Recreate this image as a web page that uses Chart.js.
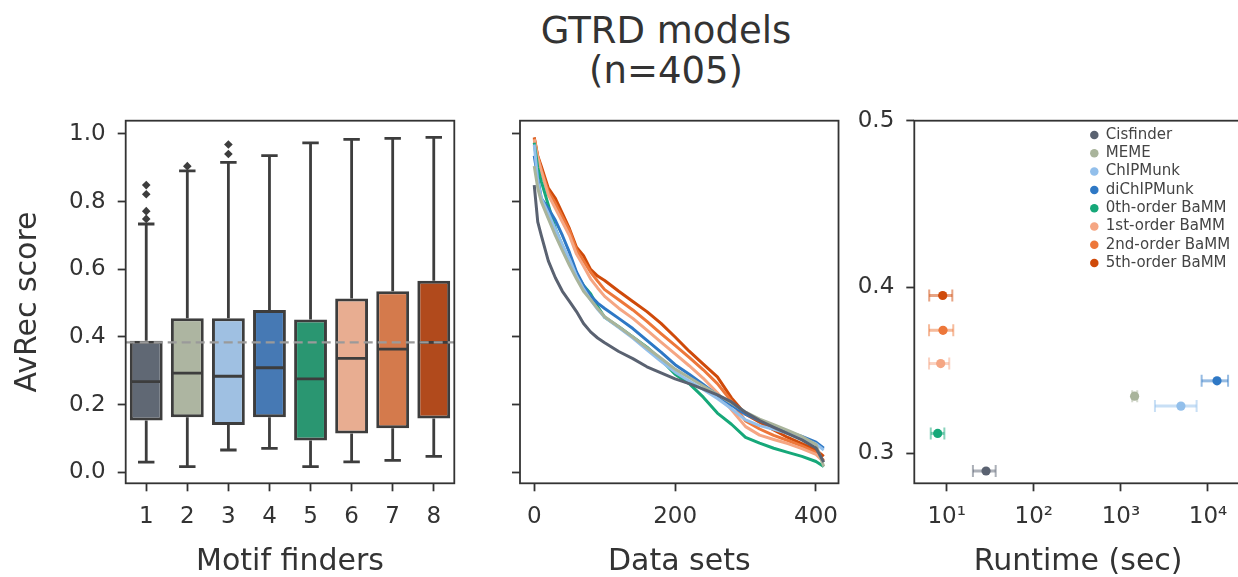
<!DOCTYPE html>
<html>
<head>
<meta charset="utf-8">
<title>GTRD models</title>
<script src="https://cdn.jsdelivr.net/npm/chart.js@4.4.1/dist/chart.umd.min.js"></script>
<style>
  html, body { margin: 0; padding: 0; background: #fff; overflow: hidden; }
  #fig { position: relative; width: 1238px; height: 577px; overflow: hidden; background: #fff; }
  #fig canvas { position: absolute; top: 0; }
  #title { position: absolute; left: 416px; width: 500px; top: 11px; text-align: center;
           font-family: 'DejaVu Sans', sans-serif; font-size: 37px; line-height: 40px; color: #333; }
</style>
</head>
<body>
<div id="fig">
  <div id="title">GTRD models<br>(n=405)</div>
  <canvas id="boxes" width="470" height="577" style="left:0"></canvas>
  <canvas id="curves" width="380" height="577" style="left:470px"></canvas>
  <canvas id="runtime" width="400" height="577" style="left:850px"></canvas>
</div>
<script>
// ---- data ----
const finders = ['1', '2', '3', '4', '5', '6', '7', '8'];
const methods = ['Cisfinder', 'MEME', 'ChIPMunk', 'diChIPMunk',
  '0th-order BaMM', '1st-order BaMM', '2nd-order BaMM', '5th-order BaMM'];

// box plot stats (AvRec score)
const whiskLow  = [0.030, 0.017, 0.066, 0.071, 0.017, 0.031, 0.035, 0.047];
const q1        = [0.153, 0.163, 0.140, 0.163, 0.094, 0.115, 0.130, 0.159];
const median    = [0.268, 0.293, 0.284, 0.309, 0.276, 0.337, 0.364, 0.384];
const q3        = [0.389, 0.455, 0.455, 0.480, 0.452, 0.514, 0.535, 0.566];
const whiskHigh = [0.734, 0.891, 0.916, 0.936, 0.974, 0.984, 0.987, 0.990];
const outliers  = [[0.749, 0.772, 0.822, 0.849], [0.905], [0.941, 0.969], [], [], [], [], []];
const refLine = 0.384;

// sorted AvRec per data set
const setIndex = [0, 5, 10, 20, 30, 40, 50, 60, 70, 80, 90, 100, 120, 140, 160, 180, 200,
  220, 240, 260, 280, 300, 320, 340, 360, 380, 400, 411];
const cisfinder  = [.849,.74,.70,.625,.575,.535,.505,.475,.44,.415,.397,.383,.357,.336,.312,.294,.276,.262,.246,.229,.208,.177,.153,.133,.114,.096,.072,.030];
const meme       = [.905,.84,.80,.75,.70,.655,.612,.572,.535,.51,.484,.46,.43,.40,.368,.337,.305,.28,.255,.23,.205,.178,.157,.141,.124,.106,.082,.017];
const chipmunk   = [.969,.86,.81,.765,.718,.672,.63,.58,.542,.51,.482,.458,.428,.397,.362,.328,.296,.27,.245,.218,.188,.155,.138,.127,.115,.101,.084,.066];
const dichipmunk = [.936,.87,.81,.78,.745,.70,.65,.592,.552,.522,.50,.484,.455,.425,.39,.355,.318,.29,.26,.228,.198,.172,.153,.135,.119,.106,.089,.071];
const bamm0      = [.974,.90,.86,.79,.72,.67,.625,.585,.552,.528,.49,.458,.43,.40,.37,.333,.29,.262,.222,.175,.142,.103,.086,.071,.059,.047,.032,.017];
const bamm1      = [.984,.93,.89,.82,.78,.74,.70,.645,.61,.572,.545,.52,.485,.455,.42,.385,.35,.315,.278,.235,.185,.135,.11,.097,.085,.07,.053,.031];
const bamm2      = [.987,.932,.895,.83,.795,.755,.715,.658,.625,.592,.565,.54,.51,.48,.446,.41,.375,.34,.303,.262,.21,.152,.128,.109,.094,.078,.059,.035];
const bamm5      = [.990,.935,.905,.84,.81,.765,.72,.665,.64,.60,.58,.567,.535,.505,.475,.44,.40,.358,.32,.282,.22,.172,.148,.125,.103,.085,.066,.047];
const curves = [cisfinder, meme, chipmunk, dichipmunk, bamm0, bamm1, bamm2, bamm5];

// runtime (sec) vs mean AvRec
const runtimeMid  = [28.3, 1436, 4890, 12690, 7.88, 8.53, 9.07, 9.0];
const runtimeLow  = [20, 1348, 2460, 8450, 6.56, 6.27, 6.27, 6.3];
const runtimeHigh = [36.5, 1540, 7400, 17000, 9.4, 10.7, 11.9, 11.6];
const avrecMean   = [0.2894, 0.3344, 0.3284, 0.3436, 0.312, 0.354, 0.374, 0.3949];

// tick labels
const avrecTicks = [0.0, 0.2, 0.4, 0.6, 0.8, 1.0];
const setTicks = [0, 200, 400];
const runtimeTicks = [10, 100, 1000, 10000];
const runtimeTickLabels = ['10¹', '10²', '10³', '10⁴'];
const meanTicks = [0.3, 0.4, 0.5];

// ---- styles ----
const lineColors = ['#5a6271', '#a9b49b', '#92bfeb', '#2e78c5', '#16a879', '#f5a683', '#ed773a', '#cf4a0a'];
const boxFill    = ['#606874', '#adb5a1', '#9fc0e2', '#4679b4', '#2a9671', '#e8ad91', '#d47a4c', '#b14a1c'];
const INK = '#333';
const EDGE = '#3d3d3d';
const FAMILY = "'DejaVu Sans', sans-serif";

Chart.defaults.font.family = FAMILY;
Chart.defaults.color = INK;

function fade(hex, a) {
  const n = parseInt(hex.slice(1), 16);
  return `rgba(${n >> 16},${(n >> 8) & 255},${n & 255},${a})`;
}

const tickFont = { family: FAMILY, size: 23 };
function axis(extra) {
  return Object.assign({
    grid: { display: true, drawOnChartArea: false, tickLength: 8, tickWidth: 1.8, tickColor: INK },
    border: { display: false },
    ticks: { font: tickFont, color: INK, padding: 12 }
  }, extra);
}
function axisTitle(text) {
  return { display: true, text, color: INK, font: { family: FAMILY, size: 30, lineHeight: 1 }, padding: { top: 13, bottom: 0 } };
}
const fixedTicks = list => scale => { scale.ticks = list.map(v => ({ value: v })); };

// all four spines
const frame = {
  id: 'frame',
  afterDraw(chart) {
    const a = chart.chartArea, ctx = chart.ctx;
    ctx.save();
    ctx.strokeStyle = INK;
    ctx.lineWidth = 1.8;
    ctx.strokeRect(a.left, a.top, a.right - a.left, a.bottom - a.top);
    ctx.restore();
  }
};

const base = {
  responsive: false, devicePixelRatio: 1, animation: false,
  plugins: { legend: { display: false }, tooltip: { enabled: false } },
  events: []
};

// ---- panel 1: box plots ----
const boxParts = {
  id: 'boxParts',
  afterDatasetsDraw(chart) {
    const { ctx, scales: { x, y } } = chart;
    const bars = chart.getDatasetMeta(0).data;
    ctx.save();
    ctx.strokeStyle = EDGE;
    ctx.lineWidth = 2.8;
    bars.forEach((bar, i) => {
      const cx = x.getPixelForValue(i);
      const hw = bar.width / 2, cw = bar.width / 4;
      const yq1 = y.getPixelForValue(q1[i]), yq3 = y.getPixelForValue(q3[i]);
      const ylo = y.getPixelForValue(whiskLow[i]), yhi = y.getPixelForValue(whiskHigh[i]);
      const ym = y.getPixelForValue(median[i]);
      ctx.beginPath();
      ctx.moveTo(cx, yq3); ctx.lineTo(cx, yhi);
      ctx.moveTo(cx - cw, yhi); ctx.lineTo(cx + cw, yhi);
      ctx.moveTo(cx, yq1); ctx.lineTo(cx, ylo);
      ctx.moveTo(cx - cw, ylo); ctx.lineTo(cx + cw, ylo);
      ctx.moveTo(cx - hw + 1, ym); ctx.lineTo(cx + hw - 1, ym);
      ctx.stroke();
    });
    // overall reference level
    const yr = y.getPixelForValue(refLine);
    ctx.strokeStyle = '#9a9a9a';
    ctx.lineWidth = 2.2;
    ctx.setLineDash([9, 5]);
    ctx.beginPath();
    ctx.moveTo(chart.chartArea.left, yr); ctx.lineTo(chart.chartArea.right, yr);
    ctx.stroke();
    ctx.restore();
  }
};

const outlierPoints = outliers.flatMap((list, i) => list.map(v => ({ x: finders[i], y: v })));

new Chart(document.getElementById('boxes'), {
  type: 'bar',
  data: {
    labels: finders,
    datasets: [
      { type: 'bar', data: finders.map((f, i) => [q1[i], q3[i]]), backgroundColor: boxFill,
        borderColor: EDGE, borderWidth: 3, borderSkipped: false, barPercentage: 0.8, categoryPercentage: 1.0 },
      { type: 'line', data: outlierPoints, showLine: false, pointStyle: 'rectRot', pointRadius: 4.3,
        pointBackgroundColor: EDGE, pointBorderWidth: 0 }
    ]
  },
  options: Object.assign({}, base, {
    layout: { padding: { left: 0, right: 15.7, top: 120.7, bottom: 0 } },
    scales: {
      x: axis({ type: 'category', offset: true,
        grid: { display: true, offset: false, drawOnChartArea: false, tickLength: 8, tickWidth: 1.8, tickColor: INK },
        title: axisTitle('Motif finders'), afterFit: s => { s.height = 93.7; } }),
      y: axis({ min: -0.0325, max: 1.0393, afterBuildTicks: fixedTicks(avrecTicks),
        ticks: { font: tickFont, color: INK, padding: 12, callback: v => v.toFixed(1) },
        title: axisTitle('AvRec score'), afterFit: s => { s.width = 125.7; } })
    }
  }),
  plugins: [frame, boxParts]
});

// ---- panel 2: sorted curves ----
new Chart(document.getElementById('curves'), {
  type: 'line',
  data: {
    datasets: methods.map((m, i) => ({
      label: m,
      data: setIndex.map((x, j) => ({ x, y: curves[i][j] })),
      borderColor: lineColors[i], borderWidth: 3, borderJoinStyle: 'round',
      pointRadius: 0, tension: 0, fill: false
    }))
  },
  options: Object.assign({}, base, {
    layout: { padding: { left: 0, right: 1, top: 120.7, bottom: 0 } },
    scales: {
      x: axis({ type: 'linear', min: -20.2, max: 432, afterBuildTicks: fixedTicks(setTicks),
        title: axisTitle('Data sets'), afterFit: s => { s.height = 93.7; } }),
      y: axis({ min: -0.0325, max: 1.0393, afterBuildTicks: fixedTicks(avrecTicks),
        ticks: { font: tickFont, padding: 12, callback: () => '' },
        afterFit: s => { s.width = 50; } })
    }
  }),
  plugins: [frame]
});

// ---- panel 3: runtime ----
const errBars = {
  id: 'errBars',
  beforeDatasetsDraw(chart) {
    const { ctx, scales: { x, y } } = chart;
    ctx.save();
    methods.forEach((m, i) => {
      const yy = y.getPixelForValue(avrecMean[i]);
      const x0 = x.getPixelForValue(runtimeLow[i]), x1 = x.getPixelForValue(runtimeHigh[i]);
      ctx.strokeStyle = fade(lineColors[i], 0.5);
      ctx.lineWidth = 3;
      ctx.beginPath(); ctx.moveTo(x0, yy); ctx.lineTo(x1, yy); ctx.stroke();
      ctx.lineWidth = 2;
      ctx.beginPath();
      ctx.moveTo(x0, yy - 6); ctx.lineTo(x0, yy + 6);
      ctx.moveTo(x1, yy - 6); ctx.lineTo(x1, yy + 6);
      ctx.stroke();
    });
    ctx.restore();
  }
};
// push the in-plot legend to the upper right
const legendPlace = {
  id: 'legendPlace',
  afterLayout(chart) {
    const lg = chart.legend;
    if (!lg) return;
    lg.left = chart.chartArea.left + 172.7;
    lg.top = chart.chartArea.top + 3.5;
  }
};

new Chart(document.getElementById('runtime'), {
  type: 'scatter',
  data: {
    datasets: methods.map((m, i) => ({
      label: m,
      data: [{ x: runtimeMid[i], y: avrecMean[i] }],
      backgroundColor: lineColors[i], borderWidth: 0, pointRadius: 4.6
    }))
  },
  options: Object.assign({}, base, {
    layout: { padding: { left: 0, right: 8, top: 120.7, bottom: 0 } },
    plugins: {
      tooltip: { enabled: false },
      legend: {
        display: true, position: 'chartArea', align: 'start',
        labels: { usePointStyle: true, boxWidth: 8, boxHeight: 6, padding: 3.3,
          color: '#444', font: { family: FAMILY, size: 15 } }
      }
    },
    scales: {
      x: axis({ type: 'logarithmic', min: 4.246, max: 24570, afterBuildTicks: fixedTicks(runtimeTicks),
        ticks: { font: tickFont, color: INK, padding: 12, callback: (v, i) => runtimeTickLabels[i] },
        title: axisTitle('Runtime (sec)'), afterFit: s => { s.height = 93.7; } }),
      y: axis({ min: 0.282, max: 0.5, afterBuildTicks: fixedTicks(meanTicks),
        ticks: { font: tickFont, color: INK, padding: 12, callback: v => v.toFixed(1) },
        afterFit: s => { s.width = 64.3; } })
    }
  }),
  plugins: [frame, errBars, legendPlace]
});
</script>
</body>
</html>
